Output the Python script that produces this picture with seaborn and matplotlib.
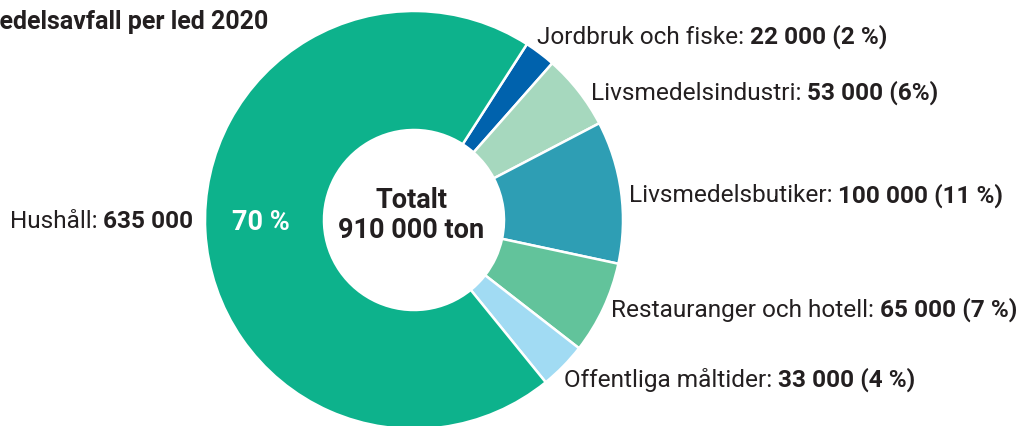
import matplotlib
matplotlib.use("Agg")
import matplotlib.pyplot as plt
import seaborn as sns

# Livsmedelsavfall per led 2020 (ton)
categories = ["Jordbruk och fiske", "Livsmedelsindustri", "Livsmedelsbutiker",
              "Restauranger och hotell", "Offentliga måltider", "Hushåll"]
tonnes = [22000, 53000, 100000, 65000, 33000, 635000]
value_labels = ["22 000 (2 %)", "53 000 (6%)", "100 000 (11 %)",
                "65 000 (7 %)", "33 000 (4 %)", "635 000"]
colors = ["#0062AD", "#A6D8BE", "#2E9EB4", "#62C39B", "#A1DBF3", "#0DB28C"]

# label anchor (left x, centre y) in image pixels, y from top
label_pos = [(537, 37), (591, 93), (629, 196), (611, 310), (564, 380), (10, 222)]

W, H = 1027, 426
TXT = "#231F20"


def main():
    sns.set_theme(style="white")
    plt.rcParams["font.family"] = ["Roboto", "DejaVu Sans"]

    fig = plt.figure(figsize=(W / 100, H / 100), dpi=100)
    ax = fig.add_axes([0, 0, 1, 1])

    ax.pie(tonnes, colors=colors, startangle=57.3, counterclock=False,
           radius=209, center=(414, H - 220),
           wedgeprops=dict(width=119, edgecolor="white", linewidth=1.8))
    ax.set_xlim(0, W)
    ax.set_ylim(0, H)
    ax.set_aspect("equal")
    ax.axis("off")

    fs = 17.6
    for name, val, (x, y) in zip(categories, value_labels, label_pos):
        t = ax.text(x, H - y, name + ":", fontsize=fs, color=TXT,
                    ha="left", va="center")
        ax.annotate(val, xy=(1, 0.5), xycoords=t, xytext=(4, 0),
                    textcoords="offset points", fontsize=fs, color=TXT,
                    fontweight="bold", ha="left", va="center")

    share = tonnes[-1] / sum(tonnes) * 100
    ax.text(261, H - 222, f"{share:.0f} %", fontsize=19.5, color="white",
            ha="center", va="center", fontweight="semibold")

    ax.text(412, H - 200, "Totalt", fontsize=19.5, color=TXT,
            ha="center", va="center", fontweight="bold")
    total = round(sum(tonnes), -4)
    ax.text(411, H - 230, f"{total:,.0f} ton".replace(",", " "), fontsize=19.5,
            color=TXT, ha="center", va="center", fontweight="bold")

    ax.text(268, H - 22, "Livsmedelsavfall per led 2020", fontsize=18,
            color=TXT, ha="right", va="center", fontweight="bold")

    fig.savefig("out.png", dpi=100)


if __name__ == "__main__":
    main()
